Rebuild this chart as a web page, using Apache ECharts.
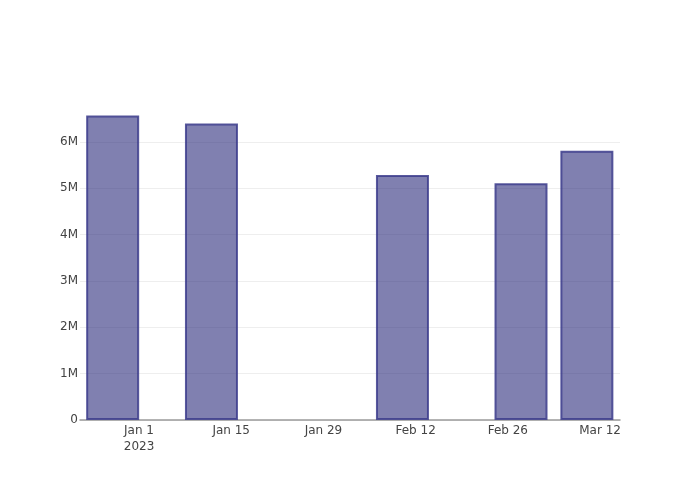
<!DOCTYPE html>
<html>
<head>
<meta charset="utf-8">
<script src="https://cdn.jsdelivr.net/npm/echarts@6/dist/echarts.min.js"></script>
<style>html,body{margin:0;padding:0;background:#fff}#c{width:700px;height:500px}</style>
</head>
<body>
<div id="c"></div>
<script>
// Data
const dates = ['2022-12-28', '2023-01-12', '2023-02-10', '2023-02-28', '2023-03-10'];
const values = [6570000, 6400000, 5290000, 5110000, 5810000];
const tickDates = ['2023-01-01', '2023-01-15', '2023-01-29', '2023-02-12', '2023-02-26', '2023-03-12'];
const tickLabels = ['Jan 1\n2023', 'Jan 15', 'Jan 29', 'Feb 12', 'Feb 26', 'Mar 12'];

const origin = Date.UTC(2023, 0, 1);
function dayNum(s) {
  const p = s.split('-').map(Number);
  return (Date.UTC(p[0], p[1] - 1, p[2]) - origin) / 86400000;
}
const tickDays = tickDates.map(dayNum);
const labelMap = {};
tickDays.forEach((d, i) => { labelMap[d] = tickLabels[i]; });

const chart = echarts.init(document.getElementById('c'), null, {renderer: 'canvas'});
chart.setOption({
  backgroundColor: '#ffffff',
  animation: false,
  grid: {left: 80, right: 80, top: 100, bottom: 80, containLabel: false},
  xAxis: {
    type: 'value',
    min: -8.96,
    max: 73.03,
    axisLine: {show: true, lineStyle: {color: '#9a9a9a', width: 1.5}},
    axisTick: {show: false},
    splitLine: {show: false},
    axisLabel: {
      customValues: tickDays,
      formatter: v => labelMap[v] !== undefined ? labelMap[v] : '',
      color: '#444',
      fontFamily: 'DejaVu Sans',
      fontSize: 12,
      lineHeight: 16,
      margin: 3
    }
  },
  yAxis: {
    type: 'value',
    min: 0,
    max: 6907000,
    interval: 1000000,
    axisLine: {show: false},
    axisTick: {show: false},
    splitLine: {show: true, showMaxLine: false, lineStyle: {color: '#eeeeee', width: 1}},
    axisLabel: {
      showMaxLabel: false,
      formatter: v => v === 0 ? '0' : (v / 1e6) + 'M',
      color: '#444',
      fontFamily: 'DejaVu Sans',
      fontSize: 12,
      margin: 2
    }
  },
  series: [{
    type: 'bar',
    data: dates.map((d, i) => [dayNum(d), values[i]]),
    barWidth: 53,
    itemStyle: {
      color: 'rgba(43,43,123,0.6)',
      borderColor: 'rgba(60,60,140,0.85)',
      borderWidth: 2
    }
  }]
});
</script>
</body>
</html>
